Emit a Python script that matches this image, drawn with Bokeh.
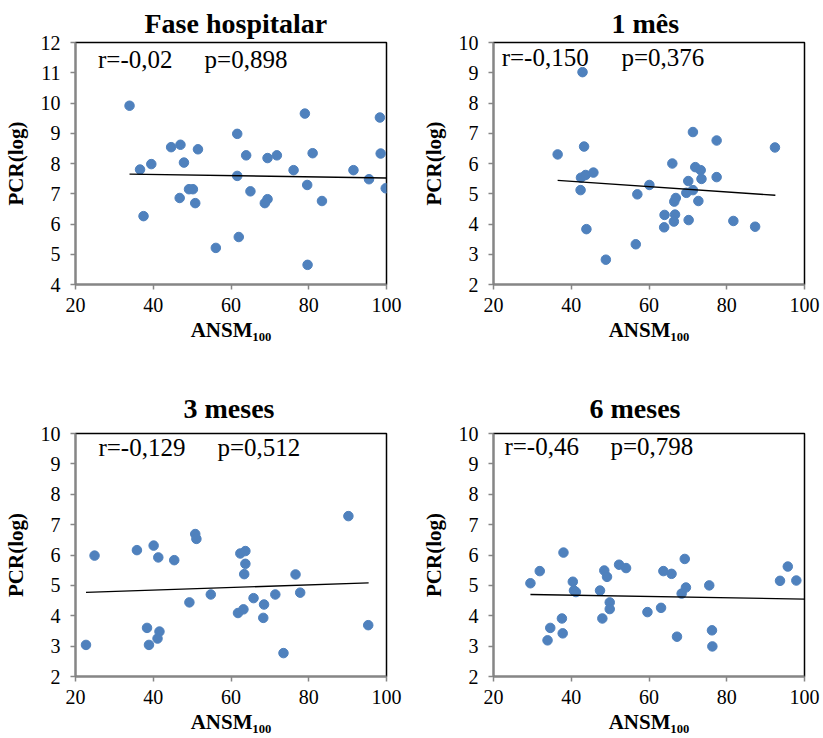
from bokeh.plotting import figure
from bokeh.layouts import column, row
from bokeh.models import Range1d, Label
from bokeh.embed import file_html
from bokeh.resources import INLINE

# ---------------- data ----------------
titles = ["Fase hospitalar", "1 mês", "3 meses", "6 meses"]
r_texts = ["r=-0,02", "r=-0,150", "r=-0,129", "r=-0,46"]
p_texts = ["p=0,898", "p=0,376", "p=0,512", "p=0,798"]
x_ticks = [20, 40, 60, 80, 100]

x_hosp = [33.9, 36.6, 39.5, 37.5, 44.6, 47.0, 47.9, 51.5, 46.8, 49.2, 50.2, 50.8,
          56.1, 61.6, 61.6, 62.0, 63.9, 65.0, 69.4, 71.8, 69.4, 68.7, 76.1, 79.0,
          79.6, 79.7, 81.0, 83.4, 91.5, 95.5, 98.3, 98.5, 99.8]
y_hosp = [9.91, 7.80, 7.98, 6.26, 8.54, 8.62, 8.03, 8.47, 6.86, 7.15, 7.15, 6.69,
          5.21, 8.98, 7.59, 5.57, 8.27, 7.08, 8.18, 8.27, 6.82, 6.69, 7.78, 9.65,
          7.29, 4.65, 8.34, 6.76, 7.78, 7.48, 9.52, 8.33, 7.18]
trend_hosp_x = [33.9, 100.0]
trend_hosp_y = [7.65, 7.52]

x_1m = [36.5, 42.9, 43.3, 42.4, 42.5, 43.7, 45.7, 43.9, 48.9, 56.6, 57.0, 60.1,
        64.0, 63.9, 66.0, 66.5, 66.9, 66.7, 66.4, 70.2, 70.1, 69.6, 71.3, 71.3,
        71.9, 73.3, 73.5, 72.7, 77.4, 77.4, 81.7, 87.3, 92.4]
y_1m = [6.30, 9.02, 6.56, 5.12, 5.53, 5.62, 5.70, 3.83, 2.82, 3.33, 4.98, 5.29,
        4.30, 3.89, 6.00, 4.74, 4.86, 4.31, 4.08, 4.13, 5.42, 5.03, 5.12, 7.04,
        5.88, 5.78, 5.49, 4.76, 6.76, 5.55, 4.10, 3.91, 6.53]
trend_1m_x = [36.5, 92.5]
trend_1m_y = [5.44, 4.95]

x_3m = [22.7, 24.9, 35.8, 38.4, 38.9, 40.1, 41.3, 41.6, 41.1, 45.4, 49.3, 50.8,
        51.1, 54.8, 62.4, 63.7, 63.7, 63.4, 61.8, 63.2, 65.8, 68.5, 68.3, 71.4,
        73.5, 76.6, 77.8, 90.2, 95.3]
y_3m = [3.04, 5.98, 6.16, 3.60, 3.04, 6.31, 5.92, 3.48, 3.25, 5.83, 4.44, 6.69,
        6.53, 4.70, 6.05, 6.13, 5.71, 5.37, 4.09, 4.21, 4.58, 4.37, 3.93, 4.70,
        2.77, 5.36, 4.76, 7.28, 3.69]
trend_3m_x = [22.7, 95.4]
trend_3m_y = [4.77, 5.08]

x_6m = [29.5, 31.9, 33.9, 34.6, 38.0, 37.6, 37.8, 40.4, 40.7, 41.2, 47.4, 48.0,
        48.5, 49.2, 49.9, 49.9, 52.3, 54.1, 59.6, 63.1, 63.7, 65.8, 67.2, 68.4,
        69.2, 69.5, 75.5, 76.2, 76.3, 93.7, 95.7, 97.9]
y_6m = [5.07, 5.47, 3.19, 3.60, 6.08, 3.91, 3.42, 5.12, 4.83, 4.78, 4.83, 3.91,
        5.49, 5.28, 4.44, 4.22, 5.68, 5.57, 4.12, 4.26, 5.47, 5.38, 3.31, 4.73,
        5.87, 4.93, 5.00, 3.52, 2.99, 5.15, 5.62, 5.16]
trend_6m_x = [29.5, 100.0]
trend_6m_y = [4.70, 4.55]

y_ranges = [(4, 12), (2, 10), (2, 10), (2, 10)]

# ---------------- style ----------------
SERIF = "Liberation Serif"
DOT = "#4F81BD"
AXIS_GREY = "#868686"

panels = [
    dict(xs=x_hosp, ys=y_hosp, tx=trend_hosp_x, ty=trend_hosp_y,
         w=418, h=379, bl=75, br=32, bt=42, fh=242, title_off=69, stand=8,
         rx=25.8, px=53.2, ly=11.44),
    dict(xs=x_1m, ys=y_1m, tx=trend_1m_x, ty=trend_1m_y,
         w=403, h=379, bl=75, br=17, bt=42, fh=242, title_off=118, stand=8,
         rx=22.1, px=52.9, ly=9.50),
    dict(xs=x_3m, ys=y_3m, tx=trend_3m_x, ty=trend_3m_y,
         w=418, h=357, bl=75, br=32, bt=54, fh=243, title_off=108, stand=20,
         rx=25.9, px=56.5, ly=9.54),
    dict(xs=x_6m, ys=y_6m, tx=trend_6m_x, ty=trend_6m_y,
         w=403, h=357, bl=75, br=17, bt=54, fh=243, title_off=96, stand=20,
         rx=22.8, px=50.1, ly=9.57),
]

figs = []
for i, cfg in enumerate(panels):
    y0, y1 = y_ranges[i]
    p = figure(width=cfg["w"], height=cfg["h"], output_backend="svg",
               toolbar_location=None, x_range=Range1d(20, 100),
               y_range=Range1d(y0, y1), title=titles[i],
               min_border_left=cfg["bl"], min_border_right=cfg["br"],
               min_border_top=cfg["bt"],
               min_border_bottom=cfg["h"] - cfg["bt"] - cfg["fh"])
    p.title.text_font = SERIF
    p.title.text_font_size = "28px"
    p.title.text_font_style = "bold"
    p.title.align = "left"
    p.title.standoff = cfg["stand"]
    p.title.offset = cfg["title_off"]
    p.title.text_color = "black"

    p.background_fill_color = "white"
    p.border_fill_color = "white"
    p.outline_line_color = "black"
    p.outline_line_width = 1.5
    p.xgrid.grid_line_color = None
    p.ygrid.grid_line_color = None

    p.xaxis.ticker = x_ticks
    p.yaxis.ticker = list(range(y0, y1 + 1))
    for ax in (p.xaxis, p.yaxis):
        ax.axis_line_color = AXIS_GREY
        ax.axis_line_width = 2
        ax.major_tick_line_color = AXIS_GREY
        ax.major_tick_line_width = 1.5
        ax.major_tick_in = 0
        ax.major_tick_out = 5
        ax.minor_tick_line_color = None
        ax.major_label_text_font = SERIF
        ax.major_label_text_font_size = "20px"
        ax.major_label_text_color = "black"
        ax.axis_label_text_font = SERIF
        ax.axis_label_text_font_size = "21px"
        ax.axis_label_text_font_style = "bold"
        ax.axis_label_text_color = "black"
    p.yaxis.major_label_standoff = 10
    p.yaxis.axis_label_standoff = 10
    p.xaxis.major_label_standoff = 8
    p.xaxis.axis_label_standoff = 3
    p.yaxis.axis_label = "PCR(log)"
    p.xaxis.axis_label = "ANSM\u2081\u2080\u2080"

    p.scatter(cfg["xs"], cfg["ys"], size=9.5, color=DOT, line_color=DOT)
    p.line(cfg["tx"], cfg["ty"], line_color="black", line_width=1.3)

    p.add_layout(Label(x=cfg["rx"], y=cfg["ly"], text=r_texts[i],
                       text_font=SERIF, text_font_size="25px",
                       text_baseline="middle", text_color="black"))
    p.add_layout(Label(x=cfg["px"], y=cfg["ly"], text=p_texts[i],
                       text_font=SERIF, text_font_size="25px",
                       text_baseline="middle", text_color="black"))
    figs.append(p)

layout = column(row(figs[0], figs[1]), row(figs[2], figs[3]))
open("out.html", "w").write(file_html(layout, INLINE))
